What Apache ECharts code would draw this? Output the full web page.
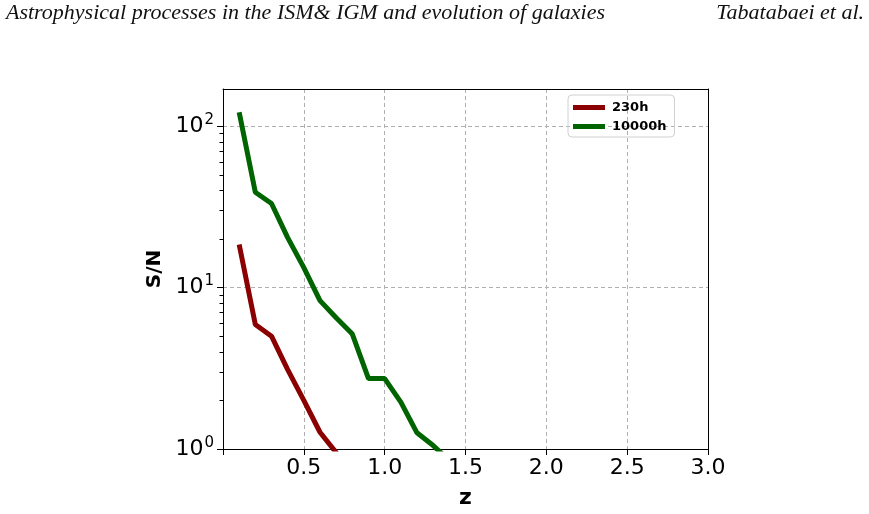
<!DOCTYPE html>
<html>
<head>
<meta charset="utf-8">
<script src="https://cdn.jsdelivr.net/npm/echarts@6/dist/echarts.min.js"></script>
<style>
  html, body { margin: 0; padding: 0; background: #fff; }
  #chart { width: 869px; height: 514px; }
</style>
</head>
<body>
<div id="chart"></div>
<script>
// redshift samples
const zValues = [0.1, 0.2, 0.3, 0.4, 0.5, 0.6, 0.7, 0.8, 0.9, 1.0, 1.1, 1.2, 1.3, 1.4];
// S/N per integration time
const snr230h = [18.5, 5.9, 5.0, 3.1, 2.0, 1.27, 0.95, 0.7];
const snr10000h = [122, 39, 33.2, 20.4, 13.3, 8.3, 6.5, 5.15, 2.73, 2.73, 1.95, 1.26, 1.05, 0.85];
const seriesNames = ["230h", "10000h"];
const xTickLabels = ["0.5", "1.0", "1.5", "2.0", "2.5", "3.0"];
const yMin = 1;
const yMax = 170;

const pairs = (vals) => vals.map((v, i) => [zValues[i], v]);

// log minor tick positions: 2..9, 20..90, up to yMax
const yMinorTicks = [];
for (let d = 1; d <= 100; d *= 10) {
  for (let k = 2; k <= 9; k++) {
    if (k * d < yMax) yMinorTicks.push(k * d);
  }
}

const chart = echarts.init(document.getElementById("chart"));
const font = "DejaVu Sans";
const gridBox = { left: 223, right: 161, top: 89, bottom: 64 };

const option = {
  backgroundColor: "#fff",
  animation: false,
  grid: { ...gridBox, containLabel: false },
  legend: {
    orient: "vertical",
    left: 568,
    top: 95,
    padding: [6, 8, 4, 5],
    itemGap: 6,
    itemWidth: 32,
    itemHeight: 5,
    icon: "rect",
    borderColor: "#d0d0d0",
    borderWidth: 1,
    borderRadius: 4,
    textStyle: { fontFamily: font, fontWeight: "bold", fontSize: 13, color: "#000", padding: [0, 0, 0, 2] },
    data: seriesNames,
  },
  xAxis: [
    {
      type: "value",
      min: 0,
      max: 3,
      interval: 0.5,
      name: "z",
      nameLocation: "middle",
      nameGap: 38,
      nameTextStyle: { fontFamily: font, fontWeight: "bold", fontSize: 22, color: "#000" },
      axisLine: { show: true, onZero: false, lineStyle: { color: "#000", width: 1 } },
      axisTick: { show: true, length: 6, lineStyle: { color: "#000" } },
      axisLabel: {
        fontFamily: font,
        fontSize: 22,
        color: "#000",
        margin: 8,
        formatter: (v) => {
          const idx = xTickLabels.indexOf(v.toFixed(1));
          return idx >= 0 ? xTickLabels[idx] : "";
        },
      },
      splitLine: { show: true, lineStyle: { color: "#b0b0b0", type: [4, 3], width: 1 } },
    },
    {
      type: "value",
      position: "top",
      min: 0,
      max: 3,
      axisLine: { show: true, onZero: false, lineStyle: { color: "#000", width: 1 } },
      axisTick: { show: false },
      axisLabel: { show: false },
      splitLine: { show: false },
    },
  ],
  yAxis: [
    {
      type: "log",
      logBase: 10,
      min: yMin,
      max: yMax,
      name: "S/N",
      nameLocation: "middle",
      nameRotate: 90,
      nameGap: 58,
      nameTextStyle: { fontFamily: font, fontWeight: "bold", fontSize: 20, color: "#000" },
      axisLine: { show: true, onZero: false, lineStyle: { color: "#000", width: 1 } },
      axisTick: { show: true, length: 6, lineStyle: { color: "#000" } },
      axisLabel: {
        margin: 9,
        showMaxLabel: false,
        formatter: (v) => {
          const e = Math.round(Math.log10(v));
          if (Math.abs(Math.log10(v) - e) > 1e-6) return "";
          return "{b|10}{s|" + e + "}";
        },
        rich: {
          b: { fontFamily: font, fontSize: 22, color: "#000" },
          s: { fontFamily: font, fontSize: 15, color: "#000", padding: [0, 0, 12, 1] },
        },
      },
      splitLine: { show: true, lineStyle: { color: "#b0b0b0", type: [4, 3], width: 1 } },
    },
    {
      type: "log",
      position: "right",
      min: yMin,
      max: yMax,
      axisLine: { show: true, onZero: false, lineStyle: { color: "#000", width: 1 } },
      axisTick: { show: false },
      axisLabel: { show: false },
      splitLine: { show: false },
    },
    {
      // minor ticks only
      type: "log",
      position: "left",
      offset: 0,
      min: yMin,
      max: yMax,
      axisLine: { show: false },
      axisTick: { show: true, length: 3.5, customValues: yMinorTicks, lineStyle: { color: "#000", width: 1 } },
      axisLabel: { show: false },
      splitLine: { show: false },
    },
  ],
  series: [
    {
      name: seriesNames[0],
      type: "line",
      data: pairs(snr230h),
      showSymbol: false,
      clip: true,
      lineStyle: { color: "#8b0000", width: 5 },
      itemStyle: { color: "#8b0000" },
    },
    {
      name: seriesNames[1],
      type: "line",
      data: pairs(snr10000h),
      showSymbol: false,
      clip: true,
      lineStyle: { color: "#006400", width: 5 },
      itemStyle: { color: "#006400" },
    },
  ],
  graphic: [
    {
      type: "text",
      left: 6,
      top: 2,
      style: {
        text: "Astrophysical processes in the ISM& IGM and evolution of galaxies",
        fontFamily: "Liberation Serif",
        fontStyle: "italic",
        fontSize: 22,
        fill: "#111",
      },
    },
    {
      type: "text",
      right: 5,
      top: 2,
      style: {
        text: "Tabatabaei et al.",
        fontFamily: "Liberation Serif",
        fontStyle: "italic",
        fontSize: 22,
        fill: "#111",
      },
    },
  ],
};
chart.setOption(option);
</script>
</body>
</html>
